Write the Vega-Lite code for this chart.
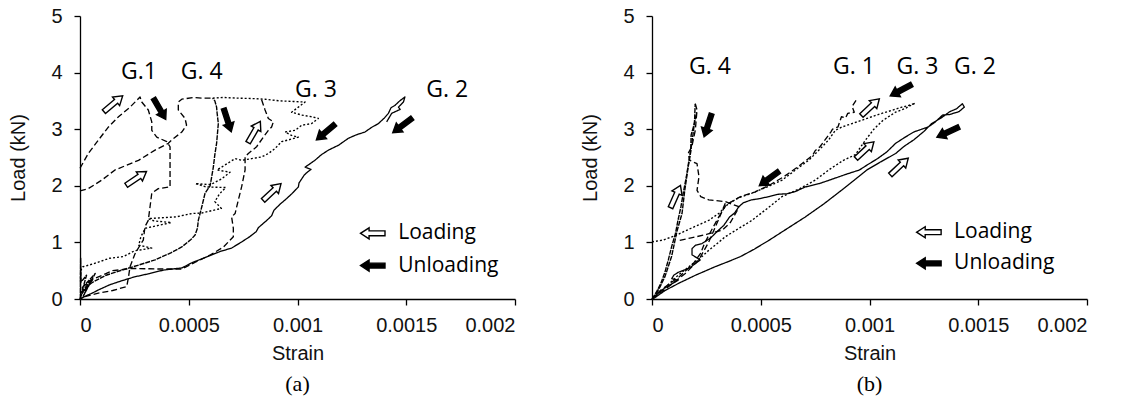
{
  "$schema": "https://vega.github.io/schema/vega-lite/v6.json",
  "background": "white",
  "padding": {"left": 8, "top": 6, "right": 5, "bottom": 5},
  "config": {
    "view": {"stroke": null},
    "axis": {"grid": false, "domainColor": "#000", "tickColor": "#000", "domainWidth": 1.3, "tickWidth": 1.3, "tickSize": 6,
      "labelFont": "Liberation Sans, Arial, sans-serif", "labelFontSize": 20, "labelColor": "#111",
      "titleFont": "Liberation Sans, Arial, sans-serif", "titleFontSize": 20, "titleFontWeight": "normal", "titleColor": "#111"}
  },
  "datasets": {
    "lines": [
      {"panel":"a","seg":"a_g2","style":"solid","i":1,"strain":0,"load":0},
      {"panel":"a","seg":"a_g2","style":"solid","i":2,"strain":0.05e-4,"load":0.01},
      {"panel":"a","seg":"a_g2","style":"solid","i":3,"strain":0.3e-4,"load":0.06},
      {"panel":"a","seg":"a_g2","style":"solid","i":4,"strain":0.54e-4,"load":0.1},
      {"panel":"a","seg":"a_g2","style":"solid","i":5,"strain":0.9e-4,"load":0.17},
      {"panel":"a","seg":"a_g2","style":"solid","i":6,"strain":1.36e-4,"load":0.25},
      {"panel":"a","seg":"a_g2","style":"solid","i":7,"strain":1.9e-4,"load":0.32},
      {"panel":"a","seg":"a_g2","style":"solid","i":8,"strain":2.5e-4,"load":0.39},
      {"panel":"a","seg":"a_g2","style":"solid","i":9,"strain":3.2e-4,"load":0.45},
      {"panel":"a","seg":"a_g2","style":"solid","i":10,"strain":3.83e-4,"load":0.51},
      {"panel":"a","seg":"a_g2","style":"solid","i":11,"strain":4.69e-4,"load":0.55},
      {"panel":"a","seg":"a_g2","style":"solid","i":12,"strain":5.14e-4,"load":0.64},
      {"panel":"a","seg":"a_g2","style":"solid","i":13,"strain":5.8e-4,"load":0.74},
      {"panel":"a","seg":"a_g2","style":"solid","i":14,"strain":6.45e-4,"load":0.84},
      {"panel":"a","seg":"a_g2","style":"solid","i":15,"strain":6.97e-4,"load":0.9},
      {"panel":"a","seg":"a_g2","style":"solid","i":16,"strain":7.44e-4,"load":1.01},
      {"panel":"a","seg":"a_g2","style":"solid","i":17,"strain":7.8e-4,"load":1.1},
      {"panel":"a","seg":"a_g2","style":"solid","i":18,"strain":8.1e-4,"load":1.19},
      {"panel":"a","seg":"a_g2","style":"solid","i":19,"strain":8.2e-4,"load":1.26},
      {"panel":"a","seg":"a_g2","style":"solid","i":20,"strain":8.59e-4,"load":1.39},
      {"panel":"a","seg":"a_g2","style":"solid","i":21,"strain":8.81e-4,"load":1.47},
      {"panel":"a","seg":"a_g2","style":"solid","i":22,"strain":8.92e-4,"load":1.57},
      {"panel":"a","seg":"a_g2","style":"solid","i":23,"strain":9.24e-4,"load":1.69},
      {"panel":"a","seg":"a_g2","style":"solid","i":24,"strain":9.43e-4,"load":1.75},
      {"panel":"a","seg":"a_g2","style":"solid","i":25,"strain":9.74e-4,"load":1.86},
      {"panel":"a","seg":"a_g2","style":"solid","i":26,"strain":10.04e-4,"load":1.98},
      {"panel":"a","seg":"a_g2","style":"solid","i":27,"strain":10.07e-4,"load":2.05},
      {"panel":"a","seg":"a_g2","style":"solid","i":28,"strain":10.31e-4,"load":2.19},
      {"panel":"a","seg":"a_g2","style":"solid","i":29,"strain":10.45e-4,"load":2.24},
      {"panel":"a","seg":"a_g2","style":"solid","i":30,"strain":10.62e-4,"load":2.29},
      {"panel":"a","seg":"a_g2","style":"solid","i":31,"strain":10.35e-4,"load":2.33},
      {"panel":"a","seg":"a_g2","style":"solid","i":32,"strain":10.5e-4,"load":2.37},
      {"panel":"a","seg":"a_g2","style":"solid","i":33,"strain":10.8e-4,"load":2.45},
      {"panel":"a","seg":"a_g2","style":"solid","i":34,"strain":11.1e-4,"load":2.55},
      {"panel":"a","seg":"a_g2","style":"solid","i":35,"strain":11.42e-4,"load":2.63},
      {"panel":"a","seg":"a_g2","style":"solid","i":36,"strain":11.9e-4,"load":2.72},
      {"panel":"a","seg":"a_g2","style":"solid","i":37,"strain":12.34e-4,"load":2.84},
      {"panel":"a","seg":"a_g2","style":"solid","i":38,"strain":12.7e-4,"load":2.9},
      {"panel":"a","seg":"a_g2","style":"solid","i":39,"strain":13.1e-4,"load":2.95},
      {"panel":"a","seg":"a_g2","style":"solid","i":40,"strain":13.4e-4,"load":3.03},
      {"panel":"a","seg":"a_g2","style":"solid","i":41,"strain":13.72e-4,"load":3.1},
      {"panel":"a","seg":"a_g2","style":"solid","i":42,"strain":14.0e-4,"load":3.2},
      {"panel":"a","seg":"a_g2","style":"solid","i":43,"strain":14.18e-4,"load":3.28},
      {"panel":"a","seg":"a_g2","style":"solid","i":44,"strain":14.3e-4,"load":3.38},
      {"panel":"a","seg":"a_g2","style":"solid","i":45,"strain":14.48e-4,"load":3.42},
      {"panel":"a","seg":"a_g2","style":"solid","i":46,"strain":14.7e-4,"load":3.5},
      {"panel":"a","seg":"a_g2","style":"solid","i":47,"strain":14.94e-4,"load":3.57},
      {"panel":"a","seg":"a_g2","style":"solid","i":48,"strain":14.87e-4,"load":3.48},
      {"panel":"a","seg":"a_g2","style":"solid","i":49,"strain":14.64e-4,"load":3.39},
      {"panel":"a","seg":"a_g2","style":"solid","i":50,"strain":14.72e-4,"load":3.35},
      {"panel":"a","seg":"a_g2","style":"solid","i":51,"strain":14.33e-4,"load":3.28},
      {"panel":"a","seg":"a_g2","style":"solid","i":52,"strain":14.1e-4,"load":3.13},

      {"panel":"a","seg":"a_g4","style":"bold","i":1,"strain":0,"load":0},
      {"panel":"a","seg":"a_g4","style":"bold","i":2,"strain":0.1e-4,"load":0.12},
      {"panel":"a","seg":"a_g4","style":"bold","i":3,"strain":0.3e-4,"load":0.22},
      {"panel":"a","seg":"a_g4","style":"bold","i":4,"strain":0.6e-4,"load":0.3},
      {"panel":"a","seg":"a_g4","style":"bold","i":5,"strain":1.2e-4,"load":0.42},
      {"panel":"a","seg":"a_g4","style":"bold","i":6,"strain":1.92e-4,"load":0.51},
      {"panel":"a","seg":"a_g4","style":"bold","i":7,"strain":2.7e-4,"load":0.6},
      {"panel":"a","seg":"a_g4","style":"bold","i":8,"strain":3.45e-4,"load":0.69},
      {"panel":"a","seg":"a_g4","style":"bold","i":9,"strain":4.2e-4,"load":0.82},
      {"panel":"a","seg":"a_g4","style":"bold","i":10,"strain":4.68e-4,"load":0.92},
      {"panel":"a","seg":"a_g4","style":"bold","i":11,"strain":5.1e-4,"load":1.05},
      {"panel":"a","seg":"a_g4","style":"bold","i":12,"strain":5.29e-4,"load":1.13},
      {"panel":"a","seg":"a_g4","style":"bold","i":13,"strain":5.4e-4,"load":1.25},
      {"panel":"a","seg":"a_g4","style":"bold","i":14,"strain":5.44e-4,"load":1.39},
      {"panel":"a","seg":"a_g4","style":"bold","i":15,"strain":5.6e-4,"load":1.63},
      {"panel":"a","seg":"a_g4","style":"bold","i":16,"strain":5.75e-4,"load":1.87},
      {"panel":"a","seg":"a_g4","style":"bold","i":17,"strain":5.98e-4,"load":2.0},
      {"panel":"a","seg":"a_g4","style":"bold","i":18,"strain":6.05e-4,"load":2.15},
      {"panel":"a","seg":"a_g4","style":"bold","i":19,"strain":6.13e-4,"load":2.33},
      {"panel":"a","seg":"a_g4","style":"bold","i":20,"strain":6.2e-4,"load":2.55},
      {"panel":"a","seg":"a_g4","style":"bold","i":21,"strain":6.28e-4,"load":2.75},
      {"panel":"a","seg":"a_g4","style":"bold","i":22,"strain":6.36e-4,"load":3.1},
      {"panel":"a","seg":"a_g4","style":"bold","i":23,"strain":6.3e-4,"load":3.3},
      {"panel":"a","seg":"a_g4","style":"bold","i":24,"strain":6.28e-4,"load":3.39},
      {"panel":"a","seg":"a_g4","style":"bold","i":25,"strain":6.2e-4,"load":3.5},
      {"panel":"a","seg":"a_g4","style":"bold","i":26,"strain":6.1e-4,"load":3.55},

      {"panel":"a","seg":"a_blob","style":"bold","i":1,"strain":0.02e-4,"load":0},
      {"panel":"a","seg":"a_blob","style":"bold","i":2,"strain":0.03e-4,"load":0.72},
      {"panel":"a","seg":"a_blob","style":"bold","i":3,"strain":0.05e-4,"load":0.3},
      {"panel":"a","seg":"a_blob","style":"bold","i":4,"strain":0.3e-4,"load":0.42},
      {"panel":"a","seg":"a_blob","style":"bold","i":5,"strain":0.08e-4,"load":0.12},
      {"panel":"a","seg":"a_blob","style":"bold","i":6,"strain":0.55e-4,"load":0.35},
      {"panel":"a","seg":"a_blob","style":"bold","i":7,"strain":0.1e-4,"load":0.2},
      {"panel":"a","seg":"a_blob","style":"bold","i":8,"strain":0.7e-4,"load":0.45},
      {"panel":"a","seg":"a_blob","style":"bold","i":9,"strain":0.15e-4,"load":0.05},
      {"panel":"a","seg":"a_blob","style":"bold","i":10,"strain":0.4e-4,"load":0.25},
      {"panel":"a","seg":"a_blob","style":"bold","i":11,"strain":0,"load":0.05},

      {"panel":"a","seg":"a_g1loop","style":"dash","i":1,"strain":0,"load":2.31},
      {"panel":"a","seg":"a_g1loop","style":"dash","i":2,"strain":0.38e-4,"load":2.57},
      {"panel":"a","seg":"a_g1loop","style":"dash","i":3,"strain":0.85e-4,"load":2.81},
      {"panel":"a","seg":"a_g1loop","style":"dash","i":4,"strain":1.31e-4,"load":3.04},
      {"panel":"a","seg":"a_g1loop","style":"dash","i":5,"strain":1.77e-4,"load":3.22},
      {"panel":"a","seg":"a_g1loop","style":"dash","i":6,"strain":2.3e-4,"load":3.39},
      {"panel":"a","seg":"a_g1loop","style":"dash","i":7,"strain":2.61e-4,"load":3.51},
      {"panel":"a","seg":"a_g1loop","style":"dash","i":8,"strain":2.76e-4,"load":3.57},
      {"panel":"a","seg":"a_g1loop","style":"dash","i":9,"strain":2.84e-4,"load":3.48},
      {"panel":"a","seg":"a_g1loop","style":"dash","i":10,"strain":3.14e-4,"load":3.34},
      {"panel":"a","seg":"a_g1loop","style":"dash","i":11,"strain":3.3e-4,"load":3.13},
      {"panel":"a","seg":"a_g1loop","style":"dash","i":12,"strain":3.3e-4,"load":2.98},
      {"panel":"a","seg":"a_g1loop","style":"dash","i":13,"strain":3.53e-4,"load":2.86},
      {"panel":"a","seg":"a_g1loop","style":"dash","i":14,"strain":3.99e-4,"load":2.78},
      {"panel":"a","seg":"a_g1loop","style":"dash","i":15,"strain":4.14e-4,"load":2.69},
      {"panel":"a","seg":"a_g1loop","style":"dash","i":16,"strain":4.14e-4,"load":2.33},
      {"panel":"a","seg":"a_g1loop","style":"dash","i":17,"strain":4.14e-4,"load":1.98},
      {"panel":"a","seg":"a_g1loop","style":"dash","i":18,"strain":3.6e-4,"load":1.95},
      {"panel":"a","seg":"a_g1loop","style":"dash","i":19,"strain":3.3e-4,"load":1.87},
      {"panel":"a","seg":"a_g1loop","style":"dash","i":20,"strain":3.22e-4,"load":1.63},
      {"panel":"a","seg":"a_g1loop","style":"dash","i":21,"strain":3.14e-4,"load":1.39},
      {"panel":"a","seg":"a_g1loop","style":"dash","i":22,"strain":2.99e-4,"load":1.28},
      {"panel":"a","seg":"a_g1loop","style":"dash","i":23,"strain":2.91e-4,"load":1.04},
      {"panel":"a","seg":"a_g1loop","style":"dash","i":24,"strain":2.76e-4,"load":0.95},
      {"panel":"a","seg":"a_g1loop","style":"dash","i":25,"strain":2.53e-4,"load":0.8},
      {"panel":"a","seg":"a_g1loop","style":"dash","i":26,"strain":2.3e-4,"load":0.57},
      {"panel":"a","seg":"a_g1loop","style":"dash","i":27,"strain":2.23e-4,"load":0.39},
      {"panel":"a","seg":"a_g1loop","style":"dash","i":28,"strain":2.15e-4,"load":0.22},
      {"panel":"a","seg":"a_g1loop","style":"dash","i":29,"strain":1.5e-4,"load":0.15},
      {"panel":"a","seg":"a_g1loop","style":"dash","i":30,"strain":0.8e-4,"load":0.1},
      {"panel":"a","seg":"a_g1loop","style":"dash","i":31,"strain":0.2e-4,"load":0.04},
      {"panel":"a","seg":"a_g1loop","style":"dash","i":32,"strain":0,"load":0},

      {"panel":"a","seg":"a_g1b","style":"dash","i":1,"strain":0,"load":1.91},
      {"panel":"a","seg":"a_g1b","style":"dash","i":2,"strain":0.38e-4,"load":1.95},
      {"panel":"a","seg":"a_g1b","style":"dash","i":3,"strain":1.0e-4,"load":2.1},
      {"panel":"a","seg":"a_g1b","style":"dash","i":4,"strain":1.61e-4,"load":2.28},
      {"panel":"a","seg":"a_g1b","style":"dash","i":5,"strain":2.69e-4,"load":2.45},
      {"panel":"a","seg":"a_g1b","style":"dash","i":6,"strain":3.45e-4,"load":2.63},
      {"panel":"a","seg":"a_g1b","style":"dash","i":7,"strain":4.06e-4,"load":2.75},
      {"panel":"a","seg":"a_g1b","style":"dash","i":8,"strain":4.22e-4,"load":2.81},
      {"panel":"a","seg":"a_g1b","style":"dash","i":9,"strain":4.68e-4,"load":2.95},
      {"panel":"a","seg":"a_g1b","style":"dash","i":10,"strain":4.9e-4,"load":3.07},
      {"panel":"a","seg":"a_g1b","style":"dash","i":11,"strain":4.83e-4,"load":3.19},
      {"panel":"a","seg":"a_g1b","style":"dash","i":12,"strain":4.52e-4,"load":3.34},
      {"panel":"a","seg":"a_g1b","style":"dash","i":13,"strain":4.52e-4,"load":3.48},
      {"panel":"a","seg":"a_g1b","style":"dash","i":14,"strain":4.68e-4,"load":3.53},
      {"panel":"a","seg":"a_g1b","style":"dash","i":15,"strain":5.2e-4,"load":3.56},
      {"panel":"a","seg":"a_g1b","style":"dash","i":16,"strain":5.6e-4,"load":3.55},
      {"panel":"a","seg":"a_g1b","style":"dash","i":17,"strain":6.1e-4,"load":3.55},

      {"panel":"a","seg":"a_g3","style":"dot","i":1,"strain":6.1e-4,"load":3.55},
      {"panel":"a","seg":"a_g3","style":"dot","i":2,"strain":6.6e-4,"load":3.56},
      {"panel":"a","seg":"a_g3","style":"dot","i":3,"strain":7.2e-4,"load":3.55},
      {"panel":"a","seg":"a_g3","style":"dot","i":4,"strain":8.05e-4,"load":3.54},
      {"panel":"a","seg":"a_g3","style":"dot","i":5,"strain":8.5e-4,"load":3.53},
      {"panel":"a","seg":"a_g3","style":"dot","i":6,"strain":9.2e-4,"load":3.5},
      {"panel":"a","seg":"a_g3","style":"dot","i":7,"strain":9.8e-4,"load":3.49},
      {"panel":"a","seg":"a_g3","style":"dot","i":8,"strain":10.35e-4,"load":3.48},
      {"panel":"a","seg":"a_g3","style":"dot","i":9,"strain":10.04e-4,"load":3.39},
      {"panel":"a","seg":"a_g3","style":"dot","i":10,"strain":9.73e-4,"load":3.3},
      {"panel":"a","seg":"a_g3","style":"dot","i":11,"strain":10.19e-4,"load":3.25},
      {"panel":"a","seg":"a_g3","style":"dot","i":12,"strain":10.65e-4,"load":3.22},
      {"panel":"a","seg":"a_g3","style":"dot","i":13,"strain":10.96e-4,"load":3.19},
      {"panel":"a","seg":"a_g3","style":"dot","i":14,"strain":10.65e-4,"load":3.1},
      {"panel":"a","seg":"a_g3","style":"dot","i":15,"strain":10.19e-4,"load":3.07},
      {"panel":"a","seg":"a_g3","style":"dot","i":16,"strain":9.89e-4,"load":2.98},
      {"panel":"a","seg":"a_g3","style":"dot","i":17,"strain":9.43e-4,"load":2.95},
      {"panel":"a","seg":"a_g3","style":"dot","i":18,"strain":9.73e-4,"load":2.89},
      {"panel":"a","seg":"a_g3","style":"dot","i":19,"strain":10.04e-4,"load":2.86},
      {"panel":"a","seg":"a_g3","style":"dot","i":20,"strain":9.58e-4,"load":2.81},
      {"panel":"a","seg":"a_g3","style":"dot","i":21,"strain":9.27e-4,"load":2.78},
      {"panel":"a","seg":"a_g3","style":"dot","i":22,"strain":8.97e-4,"load":2.66},
      {"panel":"a","seg":"a_g3","style":"dot","i":23,"strain":8.66e-4,"load":2.57},
      {"panel":"a","seg":"a_g3","style":"dot","i":24,"strain":8.35e-4,"load":2.51},
      {"panel":"a","seg":"a_g3","style":"dot","i":25,"strain":7.89e-4,"load":2.48},
      {"panel":"a","seg":"a_g3","style":"dot","i":26,"strain":7.43e-4,"load":2.45},
      {"panel":"a","seg":"a_g3","style":"dot","i":27,"strain":7.13e-4,"load":2.48},
      {"panel":"a","seg":"a_g3","style":"dot","i":28,"strain":6.8e-4,"load":2.4},
      {"panel":"a","seg":"a_g3","style":"dot","i":29,"strain":6.3e-4,"load":2.28},
      {"panel":"a","seg":"a_g3","style":"dot","i":30,"strain":6.9e-4,"load":2.24},
      {"panel":"a","seg":"a_g3","style":"dot","i":31,"strain":6.5e-4,"load":2.12},
      {"panel":"a","seg":"a_g3","style":"dot","i":32,"strain":6.0e-4,"load":2.02},
      {"panel":"a","seg":"a_g3","style":"dot","i":33,"strain":5.3e-4,"load":2.04},
      {"panel":"a","seg":"a_g3","style":"dot","i":34,"strain":5.8e-4,"load":1.98},
      {"panel":"a","seg":"a_g3","style":"dot","i":35,"strain":6.7e-4,"load":1.97},
      {"panel":"a","seg":"a_g3","style":"dot","i":36,"strain":6.4e-4,"load":1.85},
      {"panel":"a","seg":"a_g3","style":"dot","i":37,"strain":6.2e-4,"load":1.72},
      {"panel":"a","seg":"a_g3","style":"dot","i":38,"strain":6.5e-4,"load":1.6},
      {"panel":"a","seg":"a_g3","style":"dot","i":39,"strain":5.6e-4,"load":1.52},
      {"panel":"a","seg":"a_g3","style":"dot","i":40,"strain":5.14e-4,"load":1.51},
      {"panel":"a","seg":"a_g3","style":"dot","i":41,"strain":4.4e-4,"load":1.45},
      {"panel":"a","seg":"a_g3","style":"dot","i":42,"strain":3.14e-4,"load":1.42},
      {"panel":"a","seg":"a_g3","style":"dot","i":43,"strain":3.4e-4,"load":1.38},
      {"panel":"a","seg":"a_g3","style":"dot","i":44,"strain":4.2e-4,"load":1.35},
      {"panel":"a","seg":"a_g3","style":"dot","i":45,"strain":3.6e-4,"load":1.3},
      {"panel":"a","seg":"a_g3","style":"dot","i":46,"strain":3.0e-4,"load":1.25},
      {"panel":"a","seg":"a_g3","style":"dot","i":47,"strain":2.8e-4,"load":1.1},
      {"panel":"a","seg":"a_g3","style":"dot","i":48,"strain":2.7e-4,"load":0.95},
      {"panel":"a","seg":"a_g3","style":"dot","i":49,"strain":3.3e-4,"load":0.9},
      {"panel":"a","seg":"a_g3","style":"dot","i":50,"strain":2.5e-4,"load":0.85},
      {"panel":"a","seg":"a_g3","style":"dot","i":51,"strain":2.0e-4,"load":0.75},
      {"panel":"a","seg":"a_g3","style":"dot","i":52,"strain":1.36e-4,"load":0.72},
      {"panel":"a","seg":"a_g3","style":"dot","i":53,"strain":0.6e-4,"load":0.62},
      {"panel":"a","seg":"a_g3","style":"dot","i":54,"strain":0.13e-4,"load":0.57},
      {"panel":"a","seg":"a_g3","style":"dot","i":55,"strain":0.03e-4,"load":0.5},
      {"panel":"a","seg":"a_g3","style":"dot","i":56,"strain":0.02e-4,"load":0.3},

      {"panel":"a","seg":"a_g3loop","style":"dash","i":1,"strain":8.35e-4,"load":3.52},
      {"panel":"a","seg":"a_g3loop","style":"dash","i":2,"strain":8.5e-4,"load":3.35},
      {"panel":"a","seg":"a_g3loop","style":"dash","i":3,"strain":8.66e-4,"load":3.19},
      {"panel":"a","seg":"a_g3loop","style":"dash","i":4,"strain":8.89e-4,"load":3.13},
      {"panel":"a","seg":"a_g3loop","style":"dash","i":5,"strain":8.81e-4,"load":3.04},
      {"panel":"a","seg":"a_g3loop","style":"dash","i":6,"strain":8.66e-4,"load":2.98},
      {"panel":"a","seg":"a_g3loop","style":"dash","i":7,"strain":8.43e-4,"load":2.86},
      {"panel":"a","seg":"a_g3loop","style":"dash","i":8,"strain":8.12e-4,"load":2.69},
      {"panel":"a","seg":"a_g3loop","style":"dash","i":9,"strain":7.74e-4,"load":2.57},
      {"panel":"a","seg":"a_g3loop","style":"dash","i":10,"strain":7.59e-4,"load":2.51},
      {"panel":"a","seg":"a_g3loop","style":"dash","i":11,"strain":7.59e-4,"load":2.28},
      {"panel":"a","seg":"a_g3loop","style":"dash","i":12,"strain":7.43e-4,"load":1.98},
      {"panel":"a","seg":"a_g3loop","style":"dash","i":13,"strain":7.28e-4,"load":1.75},
      {"panel":"a","seg":"a_g3loop","style":"dash","i":14,"strain":7.13e-4,"load":1.51},
      {"panel":"a","seg":"a_g3loop","style":"dash","i":15,"strain":6.97e-4,"load":1.45},
      {"panel":"a","seg":"a_g3loop","style":"dash","i":16,"strain":7.05e-4,"load":1.25},
      {"panel":"a","seg":"a_g3loop","style":"dash","i":17,"strain":7.05e-4,"load":1.1},
      {"panel":"a","seg":"a_g3loop","style":"dash","i":18,"strain":6.6e-4,"load":0.92},
      {"panel":"a","seg":"a_g3loop","style":"dash","i":19,"strain":6.0e-4,"load":0.78},
      {"panel":"a","seg":"a_g3loop","style":"dash","i":20,"strain":5.3e-4,"load":0.65},
      {"panel":"a","seg":"a_g3loop","style":"dash","i":21,"strain":4.68e-4,"load":0.53},
      {"panel":"a","seg":"a_g3loop","style":"dash","i":22,"strain":3.6e-4,"load":0.53},
      {"panel":"a","seg":"a_g3loop","style":"dash","i":23,"strain":2.38e-4,"load":0.54},
      {"panel":"a","seg":"a_g3loop","style":"dash","i":24,"strain":1.5e-4,"load":0.5},
      {"panel":"a","seg":"a_g3loop","style":"dash","i":25,"strain":0.6e-4,"load":0.35},
      {"panel":"a","seg":"a_g3loop","style":"dash","i":26,"strain":0.1e-4,"load":0.1},

      {"panel":"b","seg":"b_g4","style":"bold","i":1,"strain":0,"load":0},
      {"panel":"b","seg":"b_g4","style":"bold","i":2,"strain":0.2e-4,"load":0.12},
      {"panel":"b","seg":"b_g4","style":"bold","i":3,"strain":0.41e-4,"load":0.28},
      {"panel":"b","seg":"b_g4","style":"bold","i":4,"strain":0.6e-4,"load":0.48},
      {"panel":"b","seg":"b_g4","style":"bold","i":5,"strain":0.75e-4,"load":0.69},
      {"panel":"b","seg":"b_g4","style":"bold","i":6,"strain":0.9e-4,"load":0.92},
      {"panel":"b","seg":"b_g4","style":"bold","i":7,"strain":1.08e-4,"load":1.16},
      {"panel":"b","seg":"b_g4","style":"bold","i":8,"strain":1.2e-4,"load":1.4},
      {"panel":"b","seg":"b_g4","style":"bold","i":9,"strain":1.33e-4,"load":1.63},
      {"panel":"b","seg":"b_g4","style":"bold","i":10,"strain":1.45e-4,"load":1.9},
      {"panel":"b","seg":"b_g4","style":"bold","i":11,"strain":1.58e-4,"load":2.16},
      {"panel":"b","seg":"b_g4","style":"bold","i":12,"strain":1.7e-4,"load":2.45},
      {"panel":"b","seg":"b_g4","style":"bold","i":13,"strain":1.83e-4,"load":2.75},
      {"panel":"b","seg":"b_g4","style":"bold","i":14,"strain":1.9e-4,"load":2.95},
      {"panel":"b","seg":"b_g4","style":"bold","i":15,"strain":1.96e-4,"load":3.16},
      {"panel":"b","seg":"b_g4","style":"bold","i":16,"strain":1.97e-4,"load":3.3},
      {"panel":"b","seg":"b_g4","style":"bold","i":17,"strain":1.99e-4,"load":3.45},

      {"panel":"b","seg":"b_g4b","style":"bold","i":1,"strain":0.05e-4,"load":0},
      {"panel":"b","seg":"b_g4b","style":"bold","i":2,"strain":0.35e-4,"load":0.2},
      {"panel":"b","seg":"b_g4b","style":"bold","i":3,"strain":0.6e-4,"load":0.4},
      {"panel":"b","seg":"b_g4b","style":"bold","i":4,"strain":0.9e-4,"load":0.75},
      {"panel":"b","seg":"b_g4b","style":"bold","i":5,"strain":1.15e-4,"load":1.2},
      {"panel":"b","seg":"b_g4b","style":"bold","i":6,"strain":1.38e-4,"load":1.51},
      {"panel":"b","seg":"b_g4b","style":"bold","i":7,"strain":1.5e-4,"load":1.9},
      {"panel":"b","seg":"b_g4b","style":"bold","i":8,"strain":1.65e-4,"load":2.3},
      {"panel":"b","seg":"b_g4b","style":"bold","i":9,"strain":1.78e-4,"load":2.6},
      {"panel":"b","seg":"b_g4b","style":"bold","i":10,"strain":1.8e-4,"load":2.9},
      {"panel":"b","seg":"b_g4b","style":"bold","i":11,"strain":1.95e-4,"load":3.1},
      {"panel":"b","seg":"b_g4b","style":"bold","i":12,"strain":2.05e-4,"load":3.3},

      {"panel":"b","seg":"b_g4u","style":"dash","i":1,"strain":1.99e-4,"load":3.45},
      {"panel":"b","seg":"b_g4u","style":"dash","i":2,"strain":2.07e-4,"load":3.34},
      {"panel":"b","seg":"b_g4u","style":"dash","i":3,"strain":1.99e-4,"load":2.98},
      {"panel":"b","seg":"b_g4u","style":"dash","i":4,"strain":1.83e-4,"load":2.69},
      {"panel":"b","seg":"b_g4u","style":"dash","i":5,"strain":1.66e-4,"load":2.57},
      {"panel":"b","seg":"b_g4u","style":"dash","i":6,"strain":1.74e-4,"load":2.45},
      {"panel":"b","seg":"b_g4u","style":"dash","i":7,"strain":2.07e-4,"load":2.39},
      {"panel":"b","seg":"b_g4u","style":"dash","i":8,"strain":2.16e-4,"load":2.16},
      {"panel":"b","seg":"b_g4u","style":"dash","i":9,"strain":2.07e-4,"load":1.92},
      {"panel":"b","seg":"b_g4u","style":"dash","i":10,"strain":2.24e-4,"load":1.81},
      {"panel":"b","seg":"b_g4u","style":"dash","i":11,"strain":2.61e-4,"load":1.75},
      {"panel":"b","seg":"b_g4u","style":"dash","i":12,"strain":2.9e-4,"load":1.74},
      {"panel":"b","seg":"b_g4u","style":"dash","i":13,"strain":3.37e-4,"load":1.72},
      {"panel":"b","seg":"b_g4u","style":"dash","i":14,"strain":3.99e-4,"load":1.63},
      {"panel":"b","seg":"b_g4u","style":"dash","i":15,"strain":3.9e-4,"load":1.55},
      {"panel":"b","seg":"b_g4u","style":"dash","i":16,"strain":3.6e-4,"load":1.35},
      {"panel":"b","seg":"b_g4u","style":"dash","i":17,"strain":3.24e-4,"load":1.22},
      {"panel":"b","seg":"b_g4u","style":"dash","i":18,"strain":2.5e-4,"load":1.14},
      {"panel":"b","seg":"b_g4u","style":"dash","i":19,"strain":1.8e-4,"load":1.08},
      {"panel":"b","seg":"b_g4u","style":"dash","i":20,"strain":1.2e-4,"load":1.03},

      {"panel":"b","seg":"b_g4d","style":"dash","i":1,"strain":3.37e-4,"load":1.69},
      {"panel":"b","seg":"b_g4d","style":"dash","i":2,"strain":3.0e-4,"load":1.35},
      {"panel":"b","seg":"b_g4d","style":"dash","i":3,"strain":2.6e-4,"load":1.0},
      {"panel":"b","seg":"b_g4d","style":"dash","i":4,"strain":2.15e-4,"load":0.69},
      {"panel":"b","seg":"b_g4d","style":"dash","i":5,"strain":1.53e-4,"load":0.45},
      {"panel":"b","seg":"b_g4d","style":"dash","i":6,"strain":0.77e-4,"load":0.22},
      {"panel":"b","seg":"b_g4d","style":"dash","i":7,"strain":0.15e-4,"load":0.04},

      {"panel":"b","seg":"b_g2","style":"solid","i":1,"strain":0,"load":0},
      {"panel":"b","seg":"b_g2","style":"solid","i":2,"strain":0.08e-4,"load":0.01},
      {"panel":"b","seg":"b_g2","style":"solid","i":3,"strain":0.6e-4,"load":0.15},
      {"panel":"b","seg":"b_g2","style":"solid","i":4,"strain":1.24e-4,"load":0.28},
      {"panel":"b","seg":"b_g2","style":"solid","i":5,"strain":2.0e-4,"load":0.42},
      {"panel":"b","seg":"b_g2","style":"solid","i":6,"strain":2.9e-4,"load":0.57},
      {"panel":"b","seg":"b_g2","style":"solid","i":7,"strain":3.5e-4,"load":0.66},
      {"panel":"b","seg":"b_g2","style":"solid","i":8,"strain":4.07e-4,"load":0.75},
      {"panel":"b","seg":"b_g2","style":"solid","i":9,"strain":4.7e-4,"load":0.88},
      {"panel":"b","seg":"b_g2","style":"solid","i":10,"strain":5.39e-4,"load":1.04},
      {"panel":"b","seg":"b_g2","style":"solid","i":11,"strain":6.2e-4,"load":1.24},
      {"panel":"b","seg":"b_g2","style":"solid","i":12,"strain":7.05e-4,"load":1.45},
      {"panel":"b","seg":"b_g2","style":"solid","i":13,"strain":7.9e-4,"load":1.68},
      {"panel":"b","seg":"b_g2","style":"solid","i":14,"strain":8.71e-4,"load":1.92},
      {"panel":"b","seg":"b_g2","style":"solid","i":15,"strain":9.3e-4,"load":2.1},
      {"panel":"b","seg":"b_g2","style":"solid","i":16,"strain":9.88e-4,"load":2.28},
      {"panel":"b","seg":"b_g2","style":"solid","i":17,"strain":10.5e-4,"load":2.42},
      {"panel":"b","seg":"b_g2","style":"solid","i":18,"strain":11.2e-4,"load":2.57},
      {"panel":"b","seg":"b_g2","style":"solid","i":19,"strain":11.6e-4,"load":2.7},
      {"panel":"b","seg":"b_g2","style":"solid","i":20,"strain":12.03e-4,"load":2.81},
      {"panel":"b","seg":"b_g2","style":"solid","i":21,"strain":12.5e-4,"load":2.96},
      {"panel":"b","seg":"b_g2","style":"solid","i":22,"strain":12.86e-4,"load":3.1},
      {"panel":"b","seg":"b_g2","style":"solid","i":23,"strain":13.3e-4,"load":3.2},
      {"panel":"b","seg":"b_g2","style":"solid","i":24,"strain":13.69e-4,"load":3.31},
      {"panel":"b","seg":"b_g2","style":"solid","i":25,"strain":14.0e-4,"load":3.36},
      {"panel":"b","seg":"b_g2","style":"solid","i":26,"strain":14.27e-4,"load":3.45},
      {"panel":"b","seg":"b_g2","style":"solid","i":27,"strain":14.36e-4,"load":3.39},
      {"panel":"b","seg":"b_g2","style":"solid","i":28,"strain":14.11e-4,"load":3.31},
      {"panel":"b","seg":"b_g2","style":"solid","i":29,"strain":13.69e-4,"load":3.26},
      {"panel":"b","seg":"b_g2","style":"solid","i":30,"strain":13.36e-4,"load":3.25},
      {"panel":"b","seg":"b_g2","style":"solid","i":31,"strain":13.0e-4,"load":3.12},
      {"panel":"b","seg":"b_g2","style":"solid","i":32,"strain":12.7e-4,"load":3.04},
      {"panel":"b","seg":"b_g2","style":"solid","i":33,"strain":12.03e-4,"load":2.95},
      {"panel":"b","seg":"b_g2","style":"solid","i":34,"strain":11.6e-4,"load":2.85},
      {"panel":"b","seg":"b_g2","style":"solid","i":35,"strain":11.2e-4,"load":2.75},
      {"panel":"b","seg":"b_g2","style":"solid","i":36,"strain":10.8e-4,"load":2.6},
      {"panel":"b","seg":"b_g2","style":"solid","i":37,"strain":10.37e-4,"load":2.48},
      {"panel":"b","seg":"b_g2","style":"solid","i":38,"strain":9.9e-4,"load":2.37},
      {"panel":"b","seg":"b_g2","style":"solid","i":39,"strain":9.54e-4,"load":2.28},
      {"panel":"b","seg":"b_g2","style":"solid","i":40,"strain":8.9e-4,"load":2.2},
      {"panel":"b","seg":"b_g2","style":"solid","i":41,"strain":8.38e-4,"load":2.13},
      {"panel":"b","seg":"b_g2","style":"solid","i":42,"strain":7.7e-4,"load":2.04},
      {"panel":"b","seg":"b_g2","style":"solid","i":43,"strain":7.05e-4,"load":1.98},
      {"panel":"b","seg":"b_g2","style":"solid","i":44,"strain":6.6e-4,"load":1.9},
      {"panel":"b","seg":"b_g2","style":"solid","i":45,"strain":6.22e-4,"load":1.86},
      {"panel":"b","seg":"b_g2","style":"solid","i":46,"strain":5.8e-4,"load":1.85},
      {"panel":"b","seg":"b_g2","style":"solid","i":47,"strain":5.39e-4,"load":1.81},
      {"panel":"b","seg":"b_g2","style":"solid","i":48,"strain":4.9e-4,"load":1.77},
      {"panel":"b","seg":"b_g2","style":"solid","i":49,"strain":4.56e-4,"load":1.75},
      {"panel":"b","seg":"b_g2","style":"solid","i":50,"strain":4.2e-4,"load":1.7},
      {"panel":"b","seg":"b_g2","style":"solid","i":51,"strain":3.99e-4,"load":1.63},
      {"panel":"b","seg":"b_g2","style":"solid","i":52,"strain":3.8e-4,"load":1.52},
      {"panel":"b","seg":"b_g2","style":"solid","i":53,"strain":3.57e-4,"load":1.45},
      {"panel":"b","seg":"b_g2","style":"solid","i":54,"strain":3.3e-4,"load":1.3},
      {"panel":"b","seg":"b_g2","style":"solid","i":55,"strain":3.07e-4,"load":1.22},
      {"panel":"b","seg":"b_g2","style":"solid","i":56,"strain":2.7e-4,"load":1.08},
      {"panel":"b","seg":"b_g2","style":"solid","i":57,"strain":2.3e-4,"load":0.98},
      {"panel":"b","seg":"b_g2","style":"solid","i":58,"strain":2.0e-4,"load":0.95},
      {"panel":"b","seg":"b_g2","style":"solid","i":59,"strain":1.84e-4,"load":0.89},
      {"panel":"b","seg":"b_g2","style":"solid","i":60,"strain":1.84e-4,"load":0.78},
      {"panel":"b","seg":"b_g2","style":"solid","i":61,"strain":2.22e-4,"load":0.69},
      {"panel":"b","seg":"b_g2","style":"solid","i":62,"strain":1.9e-4,"load":0.6},
      {"panel":"b","seg":"b_g2","style":"solid","i":63,"strain":1.74e-4,"load":0.55},
      {"panel":"b","seg":"b_g2","style":"solid","i":64,"strain":1.2e-4,"load":0.47},
      {"panel":"b","seg":"b_g2","style":"solid","i":65,"strain":1.0e-4,"load":0.42},
      {"panel":"b","seg":"b_g2","style":"solid","i":66,"strain":0.91e-4,"load":0.36},
      {"panel":"b","seg":"b_g2","style":"solid","i":67,"strain":1.2e-4,"load":0.33},
      {"panel":"b","seg":"b_g2","style":"solid","i":68,"strain":0.6e-4,"load":0.2},
      {"panel":"b","seg":"b_g2","style":"solid","i":69,"strain":0.1e-4,"load":0.04},

      {"panel":"b","seg":"b_g1","style":"dash","i":1,"strain":9.38e-4,"load":3.51},
      {"panel":"b","seg":"b_g1","style":"dash","i":2,"strain":9.2e-4,"load":3.4},
      {"panel":"b","seg":"b_g1","style":"dash","i":3,"strain":9.3e-4,"load":3.3},
      {"panel":"b","seg":"b_g1","style":"dash","i":4,"strain":9.0e-4,"load":3.28},
      {"panel":"b","seg":"b_g1","style":"dash","i":5,"strain":8.9e-4,"load":3.2},
      {"panel":"b","seg":"b_g1","style":"dash","i":6,"strain":8.71e-4,"load":3.22},
      {"panel":"b","seg":"b_g1","style":"dash","i":7,"strain":8.55e-4,"load":3.04},
      {"panel":"b","seg":"b_g1","style":"dash","i":8,"strain":8.3e-4,"load":3.0},
      {"panel":"b","seg":"b_g1","style":"dash","i":9,"strain":8.22e-4,"load":2.95},
      {"panel":"b","seg":"b_g1","style":"dash","i":10,"strain":8.05e-4,"load":2.86},
      {"panel":"b","seg":"b_g1","style":"dash","i":11,"strain":7.72e-4,"load":2.69},
      {"panel":"b","seg":"b_g1","style":"dash","i":12,"strain":7.5e-4,"load":2.62},
      {"panel":"b","seg":"b_g1","style":"dash","i":13,"strain":7.39e-4,"load":2.54},
      {"panel":"b","seg":"b_g1","style":"dash","i":14,"strain":6.72e-4,"load":2.34},
      {"panel":"b","seg":"b_g1","style":"dash","i":15,"strain":6.06e-4,"load":2.16},
      {"panel":"b","seg":"b_g1","style":"dash","i":16,"strain":5.39e-4,"load":2.01},
      {"panel":"b","seg":"b_g1","style":"dash","i":17,"strain":4.73e-4,"load":1.89},
      {"panel":"b","seg":"b_g1","style":"dash","i":18,"strain":4.07e-4,"load":1.81},
      {"panel":"b","seg":"b_g1","style":"dash","i":19,"strain":3.4e-4,"load":1.66},
      {"panel":"b","seg":"b_g1","style":"dash","i":20,"strain":3.07e-4,"load":1.45},
      {"panel":"b","seg":"b_g1","style":"dash","i":21,"strain":2.74e-4,"load":1.22},
      {"panel":"b","seg":"b_g1","style":"dash","i":22,"strain":2.41e-4,"load":0.98},
      {"panel":"b","seg":"b_g1","style":"dash","i":23,"strain":2.24e-4,"load":0.81},
      {"panel":"b","seg":"b_g1","style":"dash","i":24,"strain":1.91e-4,"load":0.63},
      {"panel":"b","seg":"b_g1","style":"dash","i":25,"strain":1.24e-4,"load":0.39},
      {"panel":"b","seg":"b_g1","style":"dash","i":26,"strain":0.41e-4,"load":0.16},
      {"panel":"b","seg":"b_g1","style":"dash","i":27,"strain":0.08e-4,"load":0.04},
      {"panel":"b","seg":"b_g1","style":"dash","i":28,"strain":0,"load":0},

      {"panel":"b","seg":"b_g3","style":"dot","i":1,"strain":0,"load":1.01},
      {"panel":"b","seg":"b_g3","style":"dot","i":2,"strain":0.5e-4,"load":1.04},
      {"panel":"b","seg":"b_g3","style":"dot","i":3,"strain":1.07e-4,"load":1.12},
      {"panel":"b","seg":"b_g3","style":"dot","i":4,"strain":1.8e-4,"load":1.25},
      {"panel":"b","seg":"b_g3","style":"dot","i":5,"strain":2.61e-4,"load":1.39},
      {"panel":"b","seg":"b_g3","style":"dot","i":6,"strain":3.1e-4,"load":1.52},
      {"panel":"b","seg":"b_g3","style":"dot","i":7,"strain":3.53e-4,"load":1.69},
      {"panel":"b","seg":"b_g3","style":"dot","i":8,"strain":4.0e-4,"load":1.79},
      {"panel":"b","seg":"b_g3","style":"dot","i":9,"strain":4.6e-4,"load":1.87},
      {"panel":"b","seg":"b_g3","style":"dot","i":10,"strain":5.3e-4,"load":1.98},
      {"panel":"b","seg":"b_g3","style":"dot","i":11,"strain":5.98e-4,"load":2.1},
      {"panel":"b","seg":"b_g3","style":"dot","i":12,"strain":6.6e-4,"load":2.28},
      {"panel":"b","seg":"b_g3","style":"dot","i":13,"strain":7.2e-4,"load":2.45},
      {"panel":"b","seg":"b_g3","style":"dot","i":14,"strain":7.7e-4,"load":2.64},
      {"panel":"b","seg":"b_g3","style":"dot","i":15,"strain":8.12e-4,"load":2.81},
      {"panel":"b","seg":"b_g3","style":"dot","i":16,"strain":8.43e-4,"load":2.98},
      {"panel":"b","seg":"b_g3","style":"dot","i":17,"strain":8.74e-4,"load":3.04},
      {"panel":"b","seg":"b_g3","style":"dot","i":18,"strain":9.2e-4,"load":3.1},
      {"panel":"b","seg":"b_g3","style":"dot","i":19,"strain":9.66e-4,"load":3.16},
      {"panel":"b","seg":"b_g3","style":"dot","i":20,"strain":10.1e-4,"load":3.22},
      {"panel":"b","seg":"b_g3","style":"dot","i":21,"strain":10.57e-4,"load":3.28},
      {"panel":"b","seg":"b_g3","style":"dot","i":22,"strain":11.0e-4,"load":3.33},
      {"panel":"b","seg":"b_g3","style":"dot","i":23,"strain":11.49e-4,"load":3.39},
      {"panel":"b","seg":"b_g3","style":"dot","i":24,"strain":11.8e-4,"load":3.42},
      {"panel":"b","seg":"b_g3","style":"dot","i":25,"strain":12.1e-4,"load":3.46},
      {"panel":"b","seg":"b_g3","style":"dot","i":26,"strain":11.6e-4,"load":3.36},
      {"panel":"b","seg":"b_g3","style":"dot","i":27,"strain":11.19e-4,"load":3.3},
      {"panel":"b","seg":"b_g3","style":"dot","i":28,"strain":10.6e-4,"load":3.15},
      {"panel":"b","seg":"b_g3","style":"dot","i":29,"strain":10.2e-4,"load":3.0},
      {"panel":"b","seg":"b_g3","style":"dot","i":30,"strain":9.8e-4,"load":2.8},
      {"panel":"b","seg":"b_g3","style":"dot","i":31,"strain":9.35e-4,"load":2.55},
      {"panel":"b","seg":"b_g3","style":"dot","i":32,"strain":8.8e-4,"load":2.45},
      {"panel":"b","seg":"b_g3","style":"dot","i":33,"strain":8.2e-4,"load":2.3},
      {"panel":"b","seg":"b_g3","style":"dot","i":34,"strain":7.5e-4,"load":2.1},
      {"panel":"b","seg":"b_g3","style":"dot","i":35,"strain":6.8e-4,"load":1.95},
      {"panel":"b","seg":"b_g3","style":"dot","i":36,"strain":5.98e-4,"load":1.81},
      {"panel":"b","seg":"b_g3","style":"dot","i":37,"strain":5.3e-4,"load":1.6},
      {"panel":"b","seg":"b_g3","style":"dot","i":38,"strain":4.6e-4,"load":1.39},
      {"panel":"b","seg":"b_g3","style":"dot","i":39,"strain":4.0e-4,"load":1.25},
      {"panel":"b","seg":"b_g3","style":"dot","i":40,"strain":3.37e-4,"load":1.1},
      {"panel":"b","seg":"b_g3","style":"dot","i":41,"strain":2.9e-4,"load":0.95},
      {"panel":"b","seg":"b_g3","style":"dot","i":42,"strain":2.61e-4,"load":0.86},
      {"panel":"b","seg":"b_g3","style":"dot","i":43,"strain":2.3e-4,"load":0.75},
      {"panel":"b","seg":"b_g3","style":"dot","i":44,"strain":1.8e-4,"load":0.6},
      {"panel":"b","seg":"b_g3","style":"dot","i":45,"strain":1.2e-4,"load":0.42},
      {"panel":"b","seg":"b_g3","style":"dot","i":46,"strain":0.6e-4,"load":0.2},
      {"panel":"b","seg":"b_g3","style":"dot","i":47,"strain":0.1e-4,"load":0.03}
    ],
    "arrows": [
      {"panel":"a","kind":"Loading","strain":1.53e-4,"load":3.45,"angle":320},
      {"panel":"a","kind":"Unloading","strain":3.66e-4,"load":3.36,"angle":60},
      {"panel":"a","kind":"Loading","strain":2.59e-4,"load":2.13,"angle":326},
      {"panel":"a","kind":"Unloading","strain":6.78e-4,"load":3.16,"angle":72},
      {"panel":"a","kind":"Loading","strain":8.01e-4,"load":2.95,"angle":300},
      {"panel":"a","kind":"Unloading","strain":11.3e-4,"load":2.95,"angle":140},
      {"panel":"a","kind":"Loading","strain":8.83e-4,"load":1.89,"angle":317},
      {"panel":"a","kind":"Unloading","strain":14.83e-4,"load":3.07,"angle":143},
      {"panel":"a","kind":"Loading","strain":13.46e-4,"load":1.16,"angle":180},
      {"panel":"a","kind":"Unloading","strain":13.46e-4,"load":0.59,"angle":180},
      {"panel":"b","kind":"Loading","strain":1.08e-4,"load":1.81,"angle":294},
      {"panel":"b","kind":"Unloading","strain":2.57e-4,"load":3.07,"angle":108},
      {"panel":"b","kind":"Unloading","strain":5.39e-4,"load":2.13,"angle":144},
      {"panel":"b","kind":"Loading","strain":10.04e-4,"load":3.39,"angle":317},
      {"panel":"b","kind":"Unloading","strain":11.45e-4,"load":3.69,"angle":152},
      {"panel":"b","kind":"Loading","strain":9.79e-4,"load":2.63,"angle":317},
      {"panel":"b","kind":"Unloading","strain":13.61e-4,"load":2.95,"angle":155},
      {"panel":"b","kind":"Loading","strain":11.37e-4,"load":2.34,"angle":317},
      {"panel":"b","kind":"Loading","strain":12.73e-4,"load":1.18,"angle":180},
      {"panel":"b","kind":"Unloading","strain":12.73e-4,"load":0.63,"angle":180}
    ],
    "labels": [
      {"panel":"a","role":"gauge","text":"G.1","strain":2.71e-4,"load":4.01},
      {"panel":"a","role":"gauge","text":"G. 4","strain":5.6e-4,"load":4.01},
      {"panel":"a","role":"gauge","text":"G. 3","strain":10.85e-4,"load":3.7},
      {"panel":"a","role":"gauge","text":"G. 2","strain":16.88e-4,"load":3.7},
      {"panel":"a","role":"legend","text":"Loading","strain":14.63e-4,"load":1.16},
      {"panel":"a","role":"legend","text":"Unloading","strain":14.63e-4,"load":0.59},
      {"panel":"b","role":"gauge","text":"G. 4","strain":2.66e-4,"load":4.1},
      {"panel":"b","role":"gauge","text":"G. 1","strain":9.29e-4,"load":4.1},
      {"panel":"b","role":"gauge","text":"G. 3","strain":12.2e-4,"load":4.1},
      {"panel":"b","role":"gauge","text":"G. 2","strain":14.85e-4,"load":4.1},
      {"panel":"b","role":"legend","text":"Loading","strain":13.89e-4,"load":1.18},
      {"panel":"b","role":"legend","text":"Unloading","strain":13.89e-4,"load":0.63}
    ]
  },
  "spacing": 137,
  "bounds": "flush",
  "hconcat": [
    {
      "width": 435, "height": 283,
      "title": {"text": "(a)", "orient": "bottom", "font": "Liberation Serif", "fontSize": 22, "fontWeight": "normal", "color": "#000", "offset": 11},
      "encoding": {
        "x": {"field": "strain", "type": "quantitative", "scale": {"domain": [0, 0.002], "nice": false}, "axis": {"values": [0, 0.0005, 0.001, 0.0015, 0.002], "format": "~g", "title": "Strain", "labelPadding": 10, "titlePadding": 8}},
        "y": {"field": "load", "type": "quantitative", "scale": {"domain": [0, 5], "nice": false}, "axis": {"values": [0, 1, 2, 3, 4, 5], "title": "Load (kN)", "labelPadding": 12, "titlePadding": 22}}
      },
      "layer": [
        {"data": {"name": "lines"}, "transform": [{"filter": "datum.panel === 'a'"}],
         "mark": {"type": "line", "color": "#000", "strokeJoin": "round"},
         "encoding": {
           "detail": {"field": "seg", "type": "nominal"},
           "order": {"field": "i", "type": "quantitative"},
           "strokeDash": {"field": "style", "type": "nominal", "scale": {"domain": ["solid", "dash", "dot", "bold"], "range": [[1, 0], [6, 3], [2, 2], [5, 1]]}, "legend": null},
           "strokeWidth": {"field": "style", "type": "nominal", "scale": {"domain": ["solid", "dash", "dot", "bold"], "range": [1.3, 1.4, 1.3, 2.7]}, "legend": null}
         }},
        {"data": {"name": "arrows"}, "transform": [{"filter": "datum.panel === 'a'"}],
         "mark": {"type": "point", "shape": "M-1,-0.2L0.3,-0.2L0.3,-0.45L1,0L0.3,0.45L0.3,0.2L-1,0.2Z", "filled": true, "stroke": "#000", "strokeWidth": 1.4, "opacity": 1, "size": 600},
         "encoding": {
           "angle": {"field": "angle", "type": "quantitative", "scale": null},
           "fill": {"field": "kind", "type": "nominal", "scale": {"domain": ["Loading", "Unloading"], "range": ["#fff", "#000"]}, "legend": null}
         }},
        {"data": {"name": "labels"}, "transform": [{"filter": "datum.panel === 'a' && datum.role === 'gauge'"}],
         "mark": {"type": "text", "font": "Open Sans", "fontSize": 23, "align": "center", "baseline": "middle", "color": "#000"},
         "encoding": {"text": {"field": "text", "type": "nominal"}}},
        {"data": {"name": "labels"}, "transform": [{"filter": "datum.panel === 'a' && datum.role === 'legend'"}],
         "mark": {"type": "text", "font": "Open Sans", "fontSize": 21, "align": "left", "baseline": "middle", "color": "#000"},
         "encoding": {"text": {"field": "text", "type": "nominal"}}}
      ]
    },
    {
      "width": 435, "height": 283,
      "title": {"text": "(b)", "orient": "bottom", "font": "Liberation Serif", "fontSize": 22, "fontWeight": "normal", "color": "#000", "offset": 11},
      "encoding": {
        "x": {"field": "strain", "type": "quantitative", "scale": {"domain": [0, 0.002], "nice": false}, "axis": {"values": [0, 0.0005, 0.001, 0.0015, 0.002], "format": "~g", "title": "Strain", "labelPadding": 10, "titlePadding": 8}},
        "y": {"field": "load", "type": "quantitative", "scale": {"domain": [0, 5], "nice": false}, "axis": {"values": [0, 1, 2, 3, 4, 5], "title": "Load (kN)", "labelPadding": 12, "titlePadding": 22}}
      },
      "layer": [
        {"data": {"name": "lines"}, "transform": [{"filter": "datum.panel === 'b'"}],
         "mark": {"type": "line", "color": "#000", "strokeJoin": "round"},
         "encoding": {
           "detail": {"field": "seg", "type": "nominal"},
           "order": {"field": "i", "type": "quantitative"},
           "strokeDash": {"field": "style", "type": "nominal", "scale": {"domain": ["solid", "dash", "dot", "bold"], "range": [[1, 0], [6, 3], [2, 2], [5, 1]]}, "legend": null},
           "strokeWidth": {"field": "style", "type": "nominal", "scale": {"domain": ["solid", "dash", "dot", "bold"], "range": [1.3, 1.4, 1.3, 2.7]}, "legend": null}
         }},
        {"data": {"name": "arrows"}, "transform": [{"filter": "datum.panel === 'b'"}],
         "mark": {"type": "point", "shape": "M-1,-0.2L0.3,-0.2L0.3,-0.45L1,0L0.3,0.45L0.3,0.2L-1,0.2Z", "filled": true, "stroke": "#000", "strokeWidth": 1.4, "opacity": 1, "size": 600},
         "encoding": {
           "angle": {"field": "angle", "type": "quantitative", "scale": null},
           "fill": {"field": "kind", "type": "nominal", "scale": {"domain": ["Loading", "Unloading"], "range": ["#fff", "#000"]}, "legend": null}
         }},
        {"data": {"name": "labels"}, "transform": [{"filter": "datum.panel === 'b' && datum.role === 'gauge'"}],
         "mark": {"type": "text", "font": "Open Sans", "fontSize": 23, "align": "center", "baseline": "middle", "color": "#000"},
         "encoding": {"text": {"field": "text", "type": "nominal"}}},
        {"data": {"name": "labels"}, "transform": [{"filter": "datum.panel === 'b' && datum.role === 'legend'"}],
         "mark": {"type": "text", "font": "Open Sans", "fontSize": 21, "align": "left", "baseline": "middle", "color": "#000"},
         "encoding": {"text": {"field": "text", "type": "nominal"}}}
      ]
    }
  ]
}
